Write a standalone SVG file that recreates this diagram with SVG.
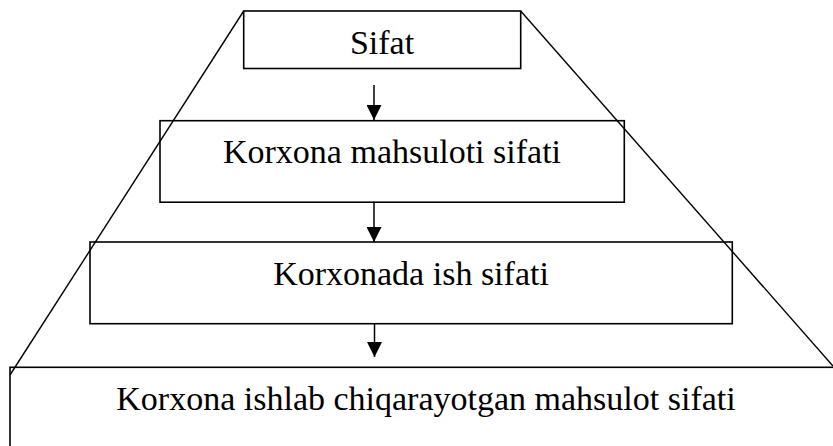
<svg xmlns="http://www.w3.org/2000/svg" width="833" height="446" viewBox="0 0 833 446">
<style>
.box{fill:none;stroke:#000;stroke-width:1.6}
.side{fill:none;stroke:#000;stroke-width:1.4}
.lbl{font-family:"Liberation Serif","Times New Roman",serif;font-size:34px;fill:#000;text-anchor:middle}
.conn{stroke:#000;stroke-width:1.5;fill:none;marker-end:url(#ah)}
</style>
<defs>
<marker id="ah" markerWidth="15" markerHeight="15" refX="15" refY="7.5" orient="auto" markerUnits="userSpaceOnUse">
<path d="M0,0 L15,7.5 L0,15 Z" fill="#000"/>
</marker>
</defs>
<rect width="833" height="446" fill="#fff"/>
<g id="frame">
<line class="side" x1="243.7" y1="11" x2="10" y2="375"/>
<line class="side" x1="520.7" y1="11" x2="833" y2="366"/>
</g>
<g id="n1">
<rect class="box" x="243.7" y="11" width="277" height="57.5"/>
<text class="lbl" x="382" y="54">Sifat</text>
</g>
<g id="n2">
<rect class="box" x="160" y="120.7" width="464.3" height="81.5"/>
<text class="lbl" x="392" y="163">Korxona mahsuloti sifati</text>
</g>
<g id="n3">
<rect class="box" x="90" y="242" width="642.3" height="81.7"/>
<text class="lbl" x="411" y="285">Korxonada ish sifati</text>
</g>
<g id="n4">
<rect class="box" x="10" y="367.3" width="830" height="100"/>
<text class="lbl" x="426" y="410">Korxona ishlab chiqarayotgan mahsulot sifati</text>
</g>
<g id="connectors">
<line class="conn" x1="374" y1="85" x2="374" y2="120"/>
<line class="conn" x1="374" y1="202.5" x2="374" y2="242"/>
<line class="conn" x1="374.5" y1="324" x2="374.5" y2="357"/>
</g>
</svg>
